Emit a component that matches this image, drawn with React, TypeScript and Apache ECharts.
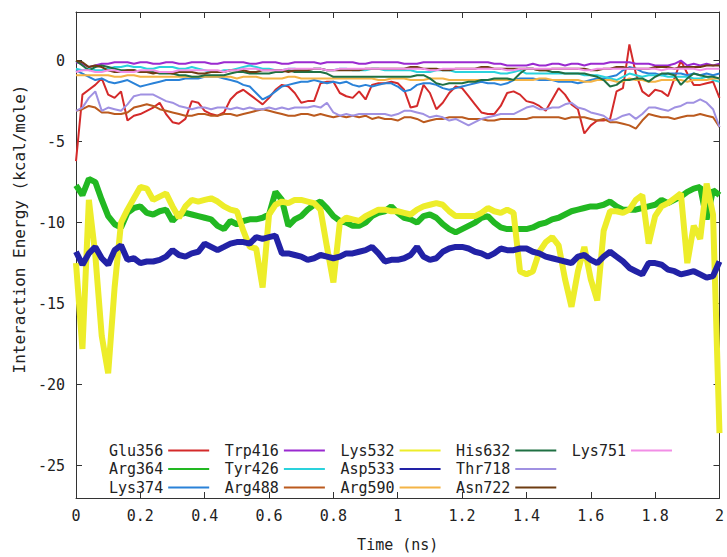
import React, { useEffect, useRef } from "react";
import * as echarts from "echarts";

// sample times (ns): one frame every 0.02 ns
const times: number[] = Array.from({ length: 101 }, (_, i) => +(i * 0.02).toFixed(2));

const xTicks = [0, 0.2, 0.4, 0.6, 0.8, 1, 1.2, 1.4, 1.6, 1.8, 2];
const yTicks = [-25, -20, -15, -10, -5, 0];

const glu356 = [-6.2,-2.1,-1.8,-1.5,-1.1,-2.1,-2.3,-1.9,-3.7,-3.4,
-3.3,-3.1,-2.9,-2.6,-3.3,-3.8,-3.9,-3.6,-2.5,-2.6,
-3.1,-3.3,-3.4,-3.2,-2.4,-2.0,-1.8,-2.1,-2.4,-2.7,
-2.3,-1.8,-1.5,-1.6,-2.0,-2.6,-2.5,-2.5,-1.4,-1.3,
-1.3,-2.0,-2.2,-2.3,-1.9,-2.4,-1.5,-1.4,-1.4,-1.3,
-1.4,-1.8,-2.9,-2.8,-1.5,-2.0,-3.0,-2.6,-2.0,-1.6,
-1.7,-2.2,-2.7,-3.2,-3.3,-3.3,-2.8,-2.0,-1.9,-2.1,
-2.5,-2.6,-2.8,-3.1,-2.4,-1.7,-2.1,-2.7,-3.0,-4.5,
-4.0,-3.7,-3.7,-3.6,-1.9,-1.7,1.0,-0.8,-1.9,-2.2,
-1.8,-1.9,-2.2,-1.1,0.0,-0.8,-1.5,-1.5,-1.4,-1.3,
-2.3];

const arg364 = [-7.7,-8.3,-7.3,-7.5,-8.6,-9.6,-10.1,-10.3,-9.4,-9.1,
-9.0,-9.4,-9.5,-9.3,-9.2,-9.9,-9.5,-9.4,-9.5,-9.6,
-9.7,-9.8,-10.2,-10.4,-9.9,-10.1,-9.9,-9.8,-9.8,-9.7,
-9.5,-8.1,-8.6,-10.2,-9.8,-9.6,-9.2,-8.9,-8.7,-9.1,
-9.6,-9.9,-10.0,-10.2,-10.2,-10.0,-9.6,-9.4,-9.3,-9.0,
-9.4,-9.7,-9.8,-10.0,-9.6,-9.5,-9.7,-10.1,-10.4,-10.6,
-10.4,-10.2,-10.0,-9.7,-9.6,-10.0,-10.3,-10.4,-10.4,-10.4,
-10.4,-10.3,-10.1,-10.0,-9.8,-9.7,-9.5,-9.3,-9.2,-9.1,
-9.0,-9.0,-8.9,-8.7,-9.0,-9.2,-9.2,-9.2,-9.1,-9.0,
-8.9,-8.6,-8.8,-8.6,-8.4,-8.1,-7.9,-7.8,-9.8,-8.0,
-8.3];

const lys374 = [-0.6,-0.8,-1.0,-1.2,-1.1,-1.3,-1.4,-1.3,-1.2,-1.4,
-1.6,-1.5,-1.4,-1.3,-1.2,-1.2,-1.2,-1.1,-1.1,-1.1,
-1.0,-1.0,-1.0,-1.1,-1.2,-1.3,-1.5,-1.6,-2.0,-2.4,
-2.2,-1.9,-1.6,-1.5,-1.4,-1.3,-1.3,-1.2,-1.3,-1.4,
-1.3,-1.4,-1.3,-1.5,-1.6,-1.5,-1.6,-1.5,-1.4,-1.4,
-1.6,-1.9,-1.8,-1.5,-1.4,-1.4,-1.5,-1.7,-1.8,-1.7,
-1.6,-1.5,-1.4,-1.3,-1.4,-1.4,-1.5,-1.4,-1.2,-1.1,
-1.1,-1.1,-1.2,-1.2,-1.2,-1.3,-1.3,-1.3,-1.4,-1.3,
-1.2,-1.1,-1.1,-1.0,-0.9,-0.6,-0.4,-0.5,-0.7,-0.8,
-0.8,-0.9,-0.8,-0.8,-0.8,-0.9,-0.8,-0.9,-0.8,-0.9,
-0.8];

const trp416 = [-0.1,-0.2,-0.4,-0.3,-0.2,-0.2,-0.1,-0.1,-0.1,-0.2,
-0.1,-0.1,-0.2,-0.2,-0.1,-0.1,-0.2,-0.2,-0.1,-0.1,
-0.1,-0.2,-0.2,-0.1,-0.1,-0.1,-0.1,-0.2,-0.2,-0.1,
-0.1,-0.1,-0.2,-0.2,-0.1,-0.1,-0.1,-0.1,-0.2,-0.1,
-0.1,-0.1,-0.1,-0.1,-0.2,-0.2,-0.1,-0.1,-0.1,-0.1,
-0.1,-0.2,-0.2,-0.2,-0.1,-0.1,-0.1,-0.1,-0.1,-0.1,
-0.1,-0.1,-0.1,-0.1,-0.1,-0.2,-0.2,-0.3,-0.3,-0.3,
-0.3,-0.2,-0.3,-0.3,-0.2,-0.2,-0.3,-0.2,-0.2,-0.3,
-0.2,-0.2,-0.2,-0.1,-0.1,-0.1,-0.1,-0.2,-0.2,-0.2,
-0.3,-0.3,-0.3,-0.2,0.0,-0.3,-0.2,-0.3,-0.2,-0.3,
-0.2];

const tyr426 = [-0.5,-0.6,-0.5,-0.6,-0.6,-0.5,-0.4,-0.4,-0.3,-0.4,
-0.4,-0.5,-0.5,-0.4,-0.4,-0.4,-0.5,-0.5,-0.4,-0.5,
-0.6,-0.7,-0.7,-0.6,-0.6,-0.5,-0.4,-0.3,-0.4,-0.5,
-0.5,-0.6,-0.6,-0.5,-0.5,-0.6,-0.6,-0.5,-0.5,-0.6,
-0.6,-0.5,-0.5,-0.6,-0.6,-0.6,-0.5,-0.5,-0.6,-0.6,
-0.6,-0.6,-0.6,-0.7,-0.7,-0.7,-0.6,-0.6,-0.6,-0.7,
-0.7,-0.7,-0.7,-0.7,-0.7,-0.7,-0.8,-0.8,-0.7,-0.6,
-0.8,-0.8,-0.8,-0.8,-0.8,-0.8,-0.8,-0.8,-0.8,-0.9,
-0.9,-0.9,-1.0,-1.1,-1.2,-1.0,-0.8,-0.9,-1.0,-0.9,
-0.9,-0.9,-1.0,-1.0,-1.0,-1.0,-1.1,-1.1,-1.0,-1.2,
-1.3];

const arg488 = [-3.1,-3.0,-2.8,-2.9,-3.2,-3.2,-3.3,-3.3,-3.2,-2.9,
-2.8,-2.7,-2.8,-3.0,-3.1,-3.2,-3.3,-3.4,-3.4,-3.3,
-3.3,-3.4,-3.4,-3.3,-3.3,-3.4,-3.3,-3.2,-3.1,-3.0,
-3.1,-3.2,-3.3,-3.4,-3.4,-3.3,-3.3,-3.4,-3.3,-3.4,
-3.5,-3.4,-3.5,-3.4,-3.5,-3.4,-3.6,-3.5,-3.6,-3.6,
-3.7,-3.5,-3.5,-3.6,-3.8,-3.7,-3.6,-3.6,-3.5,-3.5,
-3.5,-3.6,-3.6,-3.6,-3.7,-3.7,-3.6,-3.6,-3.6,-3.6,
-3.6,-3.5,-3.5,-3.5,-3.5,-3.5,-3.6,-3.5,-3.5,-3.5,
-3.6,-3.7,-3.6,-3.8,-3.8,-3.9,-4.0,-4.2,-3.7,-3.3,
-3.4,-3.5,-3.5,-3.6,-3.5,-3.4,-3.4,-3.3,-3.4,-3.5,
-4.1];

const lys532 = [-12.5,-17.8,-8.6,-12.0,-17.0,-19.3,-14.0,-10.0,-9.2,-8.5,
-7.8,-7.9,-8.6,-8.4,-8.2,-9.0,-9.7,-9.0,-8.6,-8.7,
-8.6,-8.5,-8.7,-9.0,-9.2,-9.3,-10.5,-11.5,-11.6,-14.0,
-9.5,-8.9,-8.7,-8.8,-8.6,-8.6,-8.7,-8.8,-9.2,-11.5,
-13.7,-10.0,-9.7,-9.8,-9.9,-9.6,-9.4,-9.2,-9.2,-9.3,
-9.3,-9.4,-9.5,-9.2,-9.0,-8.9,-8.8,-8.9,-9.3,-9.6,
-9.6,-9.6,-9.6,-9.4,-9.1,-9.3,-9.4,-9.2,-9.4,-13.0,
-13.2,-13.0,-11.8,-11.2,-10.9,-11.4,-13.5,-15.2,-13.0,-11.5,
-13.5,-14.8,-10.5,-9.3,-9.3,-9.4,-9.2,-8.6,-8.3,-11.3,
-9.6,-9.0,-8.8,-8.5,-8.2,-12.5,-10.2,-11.0,-7.6,-9.5,
-23.0];

const asp533 = [-11.8,-12.6,-11.9,-11.5,-12.2,-12.6,-11.7,-11.4,-12.3,-12.2,
-12.5,-12.4,-12.4,-12.3,-12.1,-11.7,-12.0,-12.1,-11.9,-11.8,
-11.3,-11.5,-11.7,-11.5,-11.3,-11.2,-11.2,-11.3,-10.9,-11.0,
-10.9,-10.8,-11.9,-11.9,-12.0,-12.1,-12.3,-12.2,-12.0,-12.1,
-12.2,-12.1,-11.9,-11.9,-11.8,-11.7,-11.5,-11.9,-12.4,-12.3,
-12.3,-12.2,-12.0,-11.5,-12.1,-12.3,-12.2,-11.8,-11.6,-11.5,
-11.5,-11.6,-11.8,-11.9,-12.1,-11.9,-11.6,-11.7,-11.7,-11.6,
-11.6,-11.8,-11.9,-12.1,-12.2,-12.3,-12.4,-12.5,-12.1,-12.0,
-12.3,-12.5,-12.1,-11.8,-12.1,-12.4,-12.8,-13.0,-13.2,-12.5,
-12.5,-12.6,-12.9,-13.0,-13.2,-13.1,-13.0,-13.2,-13.4,-13.3,
-12.4];

const arg590 = [-0.9,-0.9,-0.9,-0.9,-0.9,-0.9,-1.0,-1.0,-0.9,-0.9,
-1.0,-1.0,-1.0,-1.0,-1.0,-1.0,-1.0,-1.0,-1.0,-1.0,
-1.0,-1.0,-1.0,-1.0,-1.0,-1.1,-1.0,-1.0,-1.0,-1.1,
-1.1,-1.1,-1.1,-1.0,-1.0,-1.1,-1.1,-1.1,-1.1,-1.1,
-1.1,-1.1,-1.1,-1.1,-1.1,-1.1,-1.1,-1.2,-1.2,-1.1,
-1.1,-1.1,-1.2,-1.2,-1.2,-1.1,-1.1,-1.1,-1.2,-1.2,
-1.2,-1.2,-1.2,-1.2,-1.2,-1.2,-1.2,-1.2,-1.2,-1.2,
-1.2,-1.2,-1.1,-1.1,-1.2,-1.2,-1.2,-1.2,-1.2,-1.3,
-1.3,-1.2,-1.2,-1.2,-1.3,-1.3,-1.1,-1.2,-1.2,-1.3,
-1.3,-1.2,-1.2,-1.2,-1.2,-1.3,-1.2,-1.2,-1.2,-1.1,
-1.1];

const his632 = [0.0,-0.3,-0.6,-0.4,-0.3,-0.4,-0.5,-0.6,-0.6,-0.6,
-0.7,-0.7,-0.7,-0.8,-0.8,-0.8,-0.9,-0.9,-1.0,-1.0,
-0.9,-0.9,-0.9,-0.9,-0.8,-0.7,-0.7,-0.8,-0.8,-0.8,
-0.8,-0.7,-0.7,-0.6,-0.7,-0.7,-0.7,-0.7,-0.7,-0.8,
-1.0,-1.0,-1.0,-1.0,-1.0,-1.0,-1.0,-1.0,-1.0,-1.0,
-1.0,-1.0,-1.0,-0.9,-0.9,-1.1,-1.4,-1.5,-1.4,-1.4,
-1.4,-1.3,-1.3,-1.2,-1.2,-1.1,-1.1,-1.1,-1.2,-0.8,
-0.5,-0.5,-0.6,-0.6,-0.7,-0.7,-0.8,-0.8,-0.8,-0.8,
-0.9,-1.0,-1.2,-1.6,-1.5,-1.2,-1.2,-1.1,-1.1,-1.3,
-1.0,-0.8,-0.8,-0.9,-1.5,-1.1,-0.8,-0.9,-1.0,-1.0,
-1.1];

const thr718 = [-3.1,-2.9,-2.3,-1.9,-3.1,-2.9,-3.0,-3.1,-2.7,-2.2,
-2.1,-2.1,-2.1,-2.3,-2.5,-2.6,-2.8,-2.9,-3.0,-2.9,
-2.9,-3.0,-2.9,-2.9,-3.0,-2.9,-3.0,-2.9,-3.0,-3.0,
-2.9,-3.0,-2.9,-3.0,-2.9,-2.9,-2.9,-2.8,-2.9,-2.6,
-3.2,-3.4,-3.3,-3.4,-3.3,-3.3,-3.3,-3.3,-3.3,-3.4,
-3.3,-3.1,-3.1,-3.2,-3.3,-3.5,-3.4,-3.5,-3.7,-3.6,
-3.8,-4.0,-3.8,-3.6,-3.5,-3.4,-3.3,-3.3,-3.3,-3.1,
-2.9,-2.8,-3.0,-3.0,-2.9,-2.9,-2.7,-2.6,-2.9,-3.0,
-3.2,-3.3,-3.4,-3.7,-3.6,-3.4,-3.3,-3.6,-3.3,-2.9,
-2.9,-3.0,-3.1,-2.9,-2.8,-2.6,-2.6,-2.4,-2.6,-3.0,
-4.1];

const asn722 = [0.0,-0.1,-0.4,-0.3,-0.4,-0.6,-0.7,-0.7,-0.6,-0.6,
-0.7,-0.7,-0.8,-0.7,-0.7,-0.8,-0.7,-0.7,-0.7,-0.8,
-0.8,-0.7,-0.7,-0.7,-0.6,-0.6,-0.6,-0.7,-0.7,-0.6,
-0.6,-0.6,-0.6,-0.7,-0.6,-0.6,-0.6,-0.5,-0.5,-0.6,
-0.6,-0.6,-0.6,-0.6,-0.6,-0.5,-0.5,-0.5,-0.5,-0.5,
-0.5,-0.5,-0.4,-0.4,-0.5,-0.5,-0.5,-0.6,-0.6,-0.5,
-0.5,-0.5,-0.5,-0.4,-0.4,-0.5,-0.5,-0.5,-0.5,-0.5,
-0.5,-0.5,-0.6,-0.6,-0.5,-0.5,-0.5,-0.5,-0.5,-0.5,
-0.6,-0.6,-0.5,-0.5,-0.4,-0.4,-0.5,-0.5,-0.5,-0.5,
-0.4,-0.4,-0.4,-0.5,-0.4,-0.4,-0.4,-0.4,-0.3,-0.3,
-0.3];

const lys751 = [-0.7,-0.6,-0.6,-0.7,-0.7,-0.6,-0.6,-0.7,-0.7,-0.7,
-0.6,-0.6,-0.6,-0.7,-0.7,-0.7,-0.6,-0.6,-0.6,-0.6,
-0.6,-0.6,-0.6,-0.7,-0.6,-0.6,-0.5,-0.5,-0.5,-0.6,
-0.6,-0.6,-0.6,-0.5,-0.5,-0.5,-0.5,-0.5,-0.5,-0.6,
-0.6,-0.5,-0.5,-0.5,-0.5,-0.5,-0.5,-0.5,-0.5,-0.5,
-0.5,-0.5,-0.5,-0.5,-0.5,-0.6,-0.6,-0.5,-0.5,-0.5,
-0.5,-0.5,-0.5,-0.5,-0.5,-0.5,-0.5,-0.6,-0.6,-0.5,
-0.5,-0.5,-0.5,-0.5,-0.5,-0.5,-0.5,-0.5,-0.5,-0.6,
-0.6,-0.5,-0.5,-0.5,-0.5,-0.5,-0.5,-0.5,-0.5,-0.5,
-0.5,-0.6,-0.5,-0.5,-0.5,-0.5,-0.5,-0.6,-0.5,-0.5,
-0.5];

const seriesNames = ["Glu356","Arg364","Lys374","Trp416","Tyr426","Arg488","Lys532","Asp533","Arg590","His632","Thr718","Asn722","Lys751"];
const seriesValues = [glu356, arg364, lys374, trp416, tyr426, arg488, lys532, asp533, arg590, his632, thr718, asn722, lys751];
const seriesColors = ["#d42a2a","#22b822","#2a82d8","#9a2ad0","#2ad2dc","#bb5a1e","#eded2a","#2222a6","#f4b446","#1f7043","#a091e2","#6e3c12","#f28ee6"];
const thick = ["Arg364","Lys532","Asp533"];

const FONT = "DejaVu Sans Mono";

export default function App() {
  const ref = useRef<HTMLDivElement>(null);
  useEffect(() => {
    if (!ref.current) return;
    const chart = echarts.init(ref.current, null, { renderer: "svg" });
    const series = seriesNames.map((name, k) => ({
      name,
      type: "line",
      symbol: "none",
      color: seriesColors[k],
      lineStyle: { width: thick.includes(name) ? 6 : 2, color: seriesColors[k] },
      data: seriesValues[k].map((v, i) => [times[i], v]),
      z: 2,
    }));
    const columns: string[][] = [];
    for (let c = 0; c < 5; c++) columns.push(seriesNames.slice(c * 3, c * 3 + 3));
    const legends = columns.map((names, c) => ({
      show: true,
      orient: "vertical",
      align: "right",
      left: 109 + c * 115.7,
      top: 443,
      itemWidth: 41,
      itemHeight: 14,
      itemGap: 3.5,
      padding: 0,
      selectedMode: false,
      itemStyle: { opacity: 0 },
      data: names,
      textStyle: { fontFamily: FONT, fontSize: 15, color: "#222", lineHeight: 14 },
    }));
    const axisLineStyle = { lineStyle: { color: "#333", width: 1 } };
    chart.setOption({
      animation: false,
      backgroundColor: "#fff",
      textStyle: { fontFamily: FONT },
      grid: { left: 76, right: 1, top: 12, bottom: 54, containLabel: false },
      legend: legends,
      xAxis: [
        {
          type: "value",
          min: 0,
          max: 2,
          interval: 0.2,
          name: "Time (ns)",
          nameLocation: "middle",
          nameGap: 39,
          nameTextStyle: { fontFamily: FONT, fontSize: 15, color: "#222" },
          axisLine: { show: true, onZero: false, ...axisLineStyle },
          axisTick: { show: true, inside: true, length: 6, lineStyle: { color: "#333" } },
          axisLabel: {
            fontFamily: FONT, fontSize: 15, color: "#222", margin: 10,
            customValues: xTicks,
            formatter: (v: number) => String(+v.toFixed(1)),
          },
          splitLine: { show: false },
        },
        {
          type: "value",
          position: "top",
          min: 0,
          max: 2,
          interval: 0.2,
          axisLine: { show: true, onZero: false, ...axisLineStyle },
          axisTick: { show: true, inside: true, length: 6, lineStyle: { color: "#333" } },
          axisLabel: { show: false },
          splitLine: { show: false },
        },
      ],
      yAxis: [
        {
          type: "value",
          min: -27,
          max: 3,
          name: "Interaction Energy (kcal/mole)",
          nameLocation: "middle",
          nameGap: 49,
          nameTextStyle: { fontFamily: FONT, fontSize: 16, color: "#222", padding: [0, 0, 0, 52] },
          axisLine: { show: true, onZero: false, ...axisLineStyle },
          axisTick: { show: true, inside: true, length: 6, customValues: yTicks, lineStyle: { color: "#333" } },
          axisLabel: { fontFamily: FONT, fontSize: 15, color: "#222", margin: 11, customValues: yTicks },
          splitLine: { show: false },
        },
        {
          type: "value",
          position: "right",
          min: -27,
          max: 3,
          axisLine: { show: true, onZero: false, ...axisLineStyle },
          axisTick: { show: true, inside: true, length: 6, customValues: yTicks, lineStyle: { color: "#333" } },
          axisLabel: { show: false },
          splitLine: { show: false },
        },
      ],
      series,
    });
    return () => chart.dispose();
  }, []);
  return (
    <div
      ref={ref}
      style={{ position: "fixed", left: 0, top: 0, width: 727, height: 557, background: "#fff" }}
    />
  );
}
